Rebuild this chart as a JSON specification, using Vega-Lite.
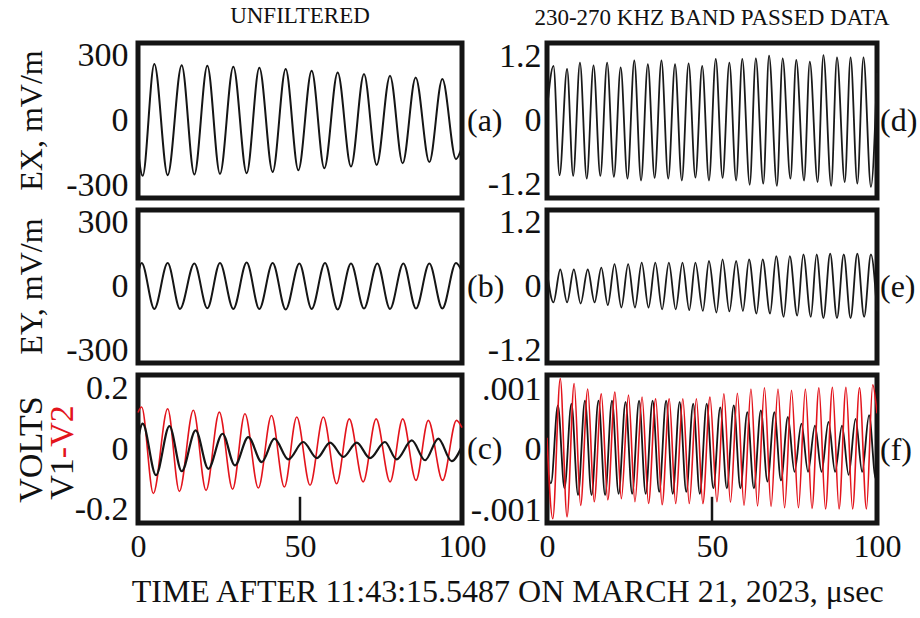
{
  "$schema": "https://vega.github.io/schema/vega-lite/v6.json",
  "background": "white",
  "padding": {"left": 11, "top": 2, "right": 2, "bottom": 5},
  "config": {
    "view": {"stroke": "#141414", "strokeWidth": 5},
    "axis": {"labelFont": "Liberation Serif", "labelFontSize": 32, "labelColor": "#111", "titleFont": "Liberation Serif", "titleFontSize": 32, "titleFontWeight": "normal", "titleColor": "#111", "domain": false, "grid": false, "ticks": false, "labelFlush": false},
    "axisY": {"labelFontSize": 34},
    "title": {"font": "Liberation Serif", "fontWeight": "normal", "color": "#111"},
    "text": {"font": "Liberation Serif", "fontSize": 32, "color": "#111"}
  },
  "title": {"text": "TIME AFTER 11:43:15.5487 ON MARCH 21, 2023, μsec", "orient": "bottom", "anchor": "middle", "fontSize": 32, "offset": 12, "dx": 42},
  "datasets": {
    "a": [{"t":0,"v":-140},{"t":1.44,"v":-255},{"t":5.04,"v":260},{"t":9.16,"v":-252},{"t":13.48,"v":255},{"t":17.39,"v":-249},{"t":21.4,"v":252},{"t":25.3,"v":-246},{"t":29.42,"v":248},{"t":33.54,"v":-243},{"t":37.45,"v":243},{"t":41.56,"v":-237},{"t":45.58,"v":237},{"t":49.49,"v":-229},{"t":53.6,"v":229},{"t":57.51,"v":-220},{"t":61.63,"v":221},{"t":65.74,"v":-212},{"t":69.75,"v":214},{"t":73.66,"v":-205},{"t":77.78,"v":206},{"t":81.69,"v":-197},{"t":85.7,"v":198},{"t":89.92,"v":-191},{"t":93.93,"v":191},{"t":98.15,"v":-178},{"t":100,"v":-120}],
    "b": [{"t":0,"v":60},{"t":1.13,"v":110},{"t":5.04,"v":-105},{"t":9.16,"v":110},{"t":12.96,"v":-105},{"t":17.39,"v":108},{"t":21.4,"v":-102},{"t":25.3,"v":110},{"t":29.42,"v":-105},{"t":33.54,"v":112},{"t":37.45,"v":-105},{"t":41.56,"v":110},{"t":45.58,"v":-108},{"t":49.8,"v":108},{"t":53.6,"v":-105},{"t":57.72,"v":110},{"t":61.63,"v":-108},{"t":65.74,"v":108},{"t":69.75,"v":-103},{"t":73.87,"v":108},{"t":77.78,"v":-105},{"t":81.9,"v":108},{"t":85.8,"v":-103},{"t":89.92,"v":108},{"t":93.93,"v":-103},{"t":98.15,"v":110},{"t":100,"v":70}],
    "c_v2": [{"t":0,"v":0.12},{"t":1.13,"v":0.138},{"t":4.73,"v":-0.146},{"t":9.16,"v":0.132},{"t":12.76,"v":-0.139},{"t":17.08,"v":0.127},{"t":21.0,"v":-0.136},{"t":25.1,"v":0.121},{"t":29.2,"v":-0.132},{"t":33.0,"v":0.116},{"t":37.14,"v":-0.128},{"t":41.2,"v":0.11},{"t":45.17,"v":-0.125},{"t":49.0,"v":0.105},{"t":53.1,"v":-0.119},{"t":57.2,"v":0.105},{"t":61.3,"v":-0.114},{"t":65.2,"v":0.099},{"t":69.5,"v":-0.108},{"t":73.5,"v":0.099},{"t":77.8,"v":-0.108},{"t":81.7,"v":0.099},{"t":85.8,"v":-0.103},{"t":89.6,"v":0.094},{"t":94.0,"v":-0.103},{"t":98.3,"v":0.094},{"t":100,"v":0.07}],
    "c_v1": [{"t":0,"v":0.03},{"t":1.44,"v":0.083},{"t":5.56,"v":-0.086},{"t":9.7,"v":0.075},{"t":13.5,"v":-0.073},{"t":17.8,"v":0.061},{"t":21.7,"v":-0.065},{"t":26.1,"v":0.05},{"t":29.9,"v":-0.054},{"t":34.05,"v":0.039},{"t":38.2,"v":-0.043},{"t":42.1,"v":0.034},{"t":46.4,"v":-0.034},{"t":51.0,"v":0.023},{"t":55.2,"v":-0.03},{"t":59.3,"v":0.021},{"t":63.4,"v":-0.026},{"t":67.5,"v":0.021},{"t":71.6,"v":-0.03},{"t":76.2,"v":0.023},{"t":79.8,"v":-0.034},{"t":84.5,"v":0.028},{"t":88.6,"v":-0.037},{"t":92.7,"v":0.034},{"t":96.8,"v":-0.04},{"t":100,"v":0.01}],
    "d": [{"t":0,"v":0.2},{"t":1.96,"v":1.03},{"t":3.81,"v":-1.03},{"t":6.08,"v":0.97},{"t":7.93,"v":-1.045},{"t":9.99,"v":1.09},{"t":12.04,"v":-1.095},{"t":14.1,"v":1.04},{"t":16.16,"v":-1.045},{"t":18.22,"v":1.09},{"t":20.27,"v":-1.06},{"t":22.33,"v":1.0},{"t":24.39,"v":-1.095},{"t":26.45,"v":1.13},{"t":28.5,"v":-1.13},{"t":30.56,"v":1.06},{"t":32.62,"v":-1.08},{"t":34.68,"v":1.13},{"t":36.74,"v":-1.095},{"t":38.8,"v":1.06},{"t":40.85,"v":-1.13},{"t":42.91,"v":1.075},{"t":44.97,"v":-1.077},{"t":47.03,"v":1.03},{"t":49.08,"v":-1.13},{"t":51.14,"v":1.16},{"t":53.2,"v":-1.08},{"t":55.26,"v":1.09},{"t":57.31,"v":-1.13},{"t":59.17,"v":1.16},{"t":61.43,"v":-1.21},{"t":63.28,"v":1.17},{"t":65.54,"v":-1.19},{"t":67.29,"v":1.22},{"t":69.66,"v":-1.23},{"t":71.41,"v":1.17},{"t":73.77,"v":-1.095},{"t":75.53,"v":1.14},{"t":77.89,"v":-1.13},{"t":79.64,"v":1.11},{"t":82.0,"v":-1.16},{"t":83.76,"v":1.23},{"t":86.12,"v":-1.23},{"t":87.87,"v":1.19},{"t":90.23,"v":-1.16},{"t":91.99,"v":1.19},{"t":94.04,"v":-1.19},{"t":95.9,"v":1.19},{"t":98.16,"v":-1.25},{"t":100,"v":0.9}],
    "e": [{"t":0,"v":0.28},{"t":1.96,"v":-0.3},{"t":4.02,"v":0.32},{"t":6.08,"v":-0.3},{"t":8.13,"v":0.32},{"t":10.19,"v":-0.32},{"t":12.35,"v":0.32},{"t":14.41,"v":-0.3},{"t":16.46,"v":0.355},{"t":18.42,"v":-0.35},{"t":20.47,"v":0.42},{"t":22.53,"v":-0.395},{"t":24.59,"v":0.42},{"t":26.65,"v":-0.395},{"t":28.7,"v":0.45},{"t":30.76,"v":-0.395},{"t":32.82,"v":0.45},{"t":34.88,"v":-0.43},{"t":36.93,"v":0.45},{"t":39.0,"v":-0.43},{"t":41.05,"v":0.45},{"t":43.11,"v":-0.445},{"t":44.96,"v":0.45},{"t":47.23,"v":-0.46},{"t":49.08,"v":0.48},{"t":51.34,"v":-0.49},{"t":53.2,"v":0.51},{"t":55.26,"v":-0.47},{"t":57.31,"v":0.48},{"t":59.37,"v":-0.46},{"t":61.22,"v":0.51},{"t":63.49,"v":-0.51},{"t":65.34,"v":0.51},{"t":67.6,"v":-0.51},{"t":69.45,"v":0.57},{"t":71.72,"v":-0.57},{"t":73.57,"v":0.57},{"t":75.83,"v":-0.55},{"t":77.68,"v":0.605},{"t":79.95,"v":-0.57},{"t":81.7,"v":0.605},{"t":83.76,"v":-0.595},{"t":85.81,"v":0.62},{"t":87.87,"v":-0.595},{"t":89.93,"v":0.605},{"t":91.99,"v":-0.595},{"t":94.04,"v":0.62},{"t":96.1,"v":-0.57},{"t":98.16,"v":0.605},{"t":100,"v":-0.47}],
    "f_v2": [{"t":0,"v":0.2},{"t":1.75,"v":-1.13},{"t":4.02,"v":1.17},{"t":6.07,"v":-1.1},{"t":8.23,"v":1.09},{"t":10.19,"v":-0.91},{"t":12.35,"v":1.0},{"t":14.3,"v":-0.85},{"t":16.46,"v":0.92},{"t":18.42,"v":-0.82},{"t":20.58,"v":0.95},{"t":22.53,"v":-0.8},{"t":24.7,"v":0.9},{"t":26.65,"v":-0.85},{"t":28.81,"v":0.87},{"t":30.76,"v":-0.88},{"t":32.93,"v":0.84},{"t":34.88,"v":-0.9},{"t":37.04,"v":0.84},{"t":39.0,"v":-0.88},{"t":41.16,"v":0.84},{"t":43.11,"v":-0.88},{"t":45.27,"v":0.84},{"t":47.23,"v":-0.88},{"t":49.39,"v":0.87},{"t":51.5,"v":-0.85},{"t":53.6,"v":0.92},{"t":55.6,"v":-0.86},{"t":57.7,"v":0.93},{"t":59.7,"v":-0.91},{"t":61.8,"v":1.0},{"t":63.8,"v":-0.92},{"t":65.9,"v":1.02},{"t":67.9,"v":-0.93},{"t":70.0,"v":1.0},{"t":72.0,"v":-0.95},{"t":74.1,"v":0.98},{"t":76.2,"v":-0.95},{"t":78.3,"v":1.0},{"t":80.3,"v":-0.96},{"t":82.4,"v":1.02},{"t":84.4,"v":-0.97},{"t":86.5,"v":1.03},{"t":88.5,"v":-0.97},{"t":90.6,"v":1.03},{"t":92.6,"v":-0.97},{"t":94.7,"v":1.02},{"t":96.8,"v":-0.97},{"t":98.7,"v":1.07},{"t":100,"v":0.6}],
    "f_v1": [{"t":0,"v":-0.3},{"t":1.2,"v":-0.55},{"t":3.3,"v":0.73},{"t":5.3,"v":-0.63},{"t":7.4,"v":0.76},{"t":9.4,"v":-0.74},{"t":11.5,"v":0.81},{"t":13.5,"v":-0.74},{"t":15.6,"v":0.81},{"t":17.6,"v":-0.74},{"t":19.7,"v":0.81},{"t":21.7,"v":-0.72},{"t":23.8,"v":0.79},{"t":25.8,"v":-0.72},{"t":27.9,"v":0.81},{"t":29.9,"v":-0.72},{"t":32.0,"v":0.81},{"t":34.0,"v":-0.69},{"t":36.1,"v":0.81},{"t":38.1,"v":-0.72},{"t":40.2,"v":0.79},{"t":42.2,"v":-0.69},{"t":44.3,"v":0.76},{"t":46.3,"v":-0.72},{"t":48.4,"v":0.76},{"t":50.4,"v":-0.63},{"t":52.5,"v":0.7},{"t":54.5,"v":-0.63},{"t":56.6,"v":0.73},{"t":58.6,"v":-0.63},{"t":60.7,"v":0.62},{"t":62.7,"v":-0.63},{"t":64.8,"v":0.65},{"t":66.8,"v":-0.52},{"t":68.9,"v":0.62},{"t":70.9,"v":-0.5},{"t":73.0,"v":0.54},{"t":75.0,"v":-0.36},{"t":77.1,"v":0.43},{"t":79.1,"v":-0.36},{"t":81.2,"v":0.4},{"t":83.2,"v":-0.36},{"t":85.3,"v":0.46},{"t":87.3,"v":-0.36},{"t":89.4,"v":0.4},{"t":91.4,"v":-0.41},{"t":93.5,"v":0.51},{"t":95.5,"v":-0.36},{"t":97.6,"v":0.57},{"t":99.6,"v":-0.47},{"t":100,"v":-0.4}],
    "one": [{}]
  },
  "columns": 2,
  "align": "each",
  "bounds": "flush",
  "spacing": {"row": 12, "column": 85},
  "concat": [
    {
      "width": 324, "height": 155,
      "title": {"text": "UNFILTERED", "fontSize": 23, "offset": 10, "anchor": "middle"},
      "layer": [
        {"data": {"name": "a"}, "mark": {"type": "line", "interpolate": "monotone", "color": "#151515", "strokeWidth": 2},
         "encoding": {
           "x": {"field": "t", "type": "quantitative", "scale": {"domain": [0, 100], "nice": false}, "axis": null},
           "y": {"field": "v", "type": "quantitative", "scale": {"domain": [-357, 357], "nice": false},
                 "axis": {"values": [-300, 0, 300], "labelExpr": "datum.value == 0 ? '0' : (datum.value > 0 ? '300' : '-300')", "labelPadding": 10, "title": "EX, mV/m", "titleAngle": 270, "titleX": -107, "titleY": 77, "titleAlign": "center", "titleBaseline": "middle"}}}},
        {"data": {"name": "one"}, "mark": {"type": "text", "text": "(a)", "align": "left", "baseline": "middle", "dx": 5},
         "encoding": {"x": {"datum": 100}, "y": {"datum": 0}}}
      ]
    },
    {
      "width": 330, "height": 155,
      "title": {"text": "230-270 KHZ BAND PASSED DATA", "fontSize": 23, "offset": 10, "anchor": "middle"},
      "layer": [
        {"data": {"name": "d"}, "mark": {"type": "line", "interpolate": "monotone", "color": "#1a1a1a", "strokeWidth": 1.8},
         "encoding": {
           "x": {"field": "t", "type": "quantitative", "scale": {"domain": [0, 100], "nice": false}, "axis": null},
           "y": {"field": "v", "type": "quantitative", "scale": {"domain": [-1.46, 1.46], "nice": false},
                 "axis": {"values": [-1.2, 0, 1.2], "labelExpr": "datum.value == 0 ? '0' : (datum.value > 0 ? '1.2' : '-1.2')", "labelPadding": 6, "title": null}}}},
        {"data": {"name": "one"}, "mark": {"type": "text", "text": "(d)", "align": "left", "baseline": "middle", "dx": 3},
         "encoding": {"x": {"datum": 100}, "y": {"datum": 0}}}
      ]
    },
    {
      "width": 324, "height": 153,
      "layer": [
        {"data": {"name": "b"}, "mark": {"type": "line", "interpolate": "monotone", "color": "#151515", "strokeWidth": 2},
         "encoding": {
           "x": {"field": "t", "type": "quantitative", "scale": {"domain": [0, 100], "nice": false}, "axis": null},
           "y": {"field": "v", "type": "quantitative", "scale": {"domain": [-358, 358], "nice": false},
                 "axis": {"values": [-300, 0, 300], "labelExpr": "datum.value == 0 ? '0' : (datum.value > 0 ? '300' : '-300')", "labelPadding": 10, "title": "EY, mV/m", "titleAngle": 270, "titleX": -107, "titleY": 76, "titleAlign": "center", "titleBaseline": "middle"}}}},
        {"data": {"name": "one"}, "mark": {"type": "text", "text": "(b)", "align": "left", "baseline": "middle", "dx": 5},
         "encoding": {"x": {"datum": 100}, "y": {"datum": 0}}}
      ]
    },
    {
      "width": 330, "height": 153,
      "layer": [
        {"data": {"name": "e"}, "mark": {"type": "line", "interpolate": "monotone", "color": "#1a1a1a", "strokeWidth": 1.8},
         "encoding": {
           "x": {"field": "t", "type": "quantitative", "scale": {"domain": [0, 100], "nice": false}, "axis": null},
           "y": {"field": "v", "type": "quantitative", "scale": {"domain": [-1.44, 1.44], "nice": false},
                 "axis": {"values": [-1.2, 0, 1.2], "labelExpr": "datum.value == 0 ? '0' : (datum.value > 0 ? '1.2' : '-1.2')", "labelPadding": 6, "title": null}}}},
        {"data": {"name": "one"}, "mark": {"type": "text", "text": "(e)", "align": "left", "baseline": "middle", "dx": 3},
         "encoding": {"x": {"datum": 100}, "y": {"datum": 0}}}
      ]
    },
    {
      "width": 324, "height": 148,
      "layer": [
        {"data": {"name": "c_v2"}, "mark": {"type": "line", "interpolate": "monotone", "color": "#e3141c", "strokeWidth": 1.6},
         "encoding": {
           "x": {"field": "t", "type": "quantitative", "scale": {"domain": [0, 100], "nice": false},
                 "axis": {"values": [0, 50, 100], "labelPadding": 8, "title": null}},
           "y": {"field": "v", "type": "quantitative", "scale": {"domain": [-0.243, 0.243], "nice": false},
                 "axis": {"values": [-0.2, 0, 0.2], "labelExpr": "datum.value == 0 ? '0' : (datum.value > 0 ? '0.2' : '-0.2')", "labelPadding": 10, "title": "VOLTS", "titleFontSize": 34, "titleAngle": 270, "titleX": -107, "titleY": 74, "titleAlign": "center", "titleBaseline": "middle"}}}},
        {"data": {"name": "c_v1"}, "mark": {"type": "line", "interpolate": "monotone", "color": "#151515", "strokeWidth": 2.2},
         "encoding": {"x": {"field": "t", "type": "quantitative"}, "y": {"field": "v", "type": "quantitative"}}},
        {"data": {"name": "one"}, "mark": {"type": "rule", "color": "#151515", "strokeWidth": 2.5},
         "encoding": {"x": {"datum": 50}, "y": {"datum": -0.243}, "y2": {"datum": -0.157}}},
        {"data": {"name": "one"}, "mark": {"type": "text", "text": "(c)", "align": "left", "baseline": "middle", "dx": 5},
         "encoding": {"x": {"datum": 100}, "y": {"datum": 0}}},
        {"data": {"name": "one"}, "mark": {"type": "text", "text": "V1", "angle": 270, "align": "right", "baseline": "middle", "fontSize": 34},
         "encoding": {"x": {"datum": -23.1}, "y": {"datum": -0.03}}},
        {"data": {"name": "one"}, "mark": {"type": "text", "text": " -V2", "angle": 270, "align": "left", "baseline": "middle", "fontSize": 34, "color": "#e3141c"},
         "encoding": {"x": {"datum": -23.1}, "y": {"datum": -0.03}}}
      ]
    },
    {
      "width": 330, "height": 148,
      "layer": [
        {"data": {"name": "f_v1"}, "mark": {"type": "line", "interpolate": "monotone", "color": "#151515", "strokeWidth": 1.8},
         "encoding": {
           "x": {"field": "t", "type": "quantitative", "scale": {"domain": [0, 100], "nice": false},
                 "axis": {"values": [0, 50, 100], "labelPadding": 8, "title": null}},
           "y": {"field": "v", "type": "quantitative", "scale": {"domain": [-1.2, 1.23], "nice": false},
                 "axis": {"values": [-1, 0, 1], "labelExpr": "datum.value == 0 ? '0' : (datum.value > 0 ? '.001' : '-.001')", "labelPadding": 6, "title": null}}}},
        {"data": {"name": "f_v2"}, "mark": {"type": "line", "interpolate": "monotone", "color": "#e3141c", "strokeWidth": 1.6, "clip": true},
         "encoding": {"x": {"field": "t", "type": "quantitative"}, "y": {"field": "v", "type": "quantitative"}}},
        {"data": {"name": "one"}, "mark": {"type": "rule", "color": "#151515", "strokeWidth": 2.5},
         "encoding": {"x": {"datum": 50}, "y": {"datum": -1.2}, "y2": {"datum": -0.77}}},
        {"data": {"name": "one"}, "mark": {"type": "text", "text": "(f)", "align": "left", "baseline": "middle", "dx": 3},
         "encoding": {"x": {"datum": 100}, "y": {"datum": 0}}}
      ]
    }
  ]
}
